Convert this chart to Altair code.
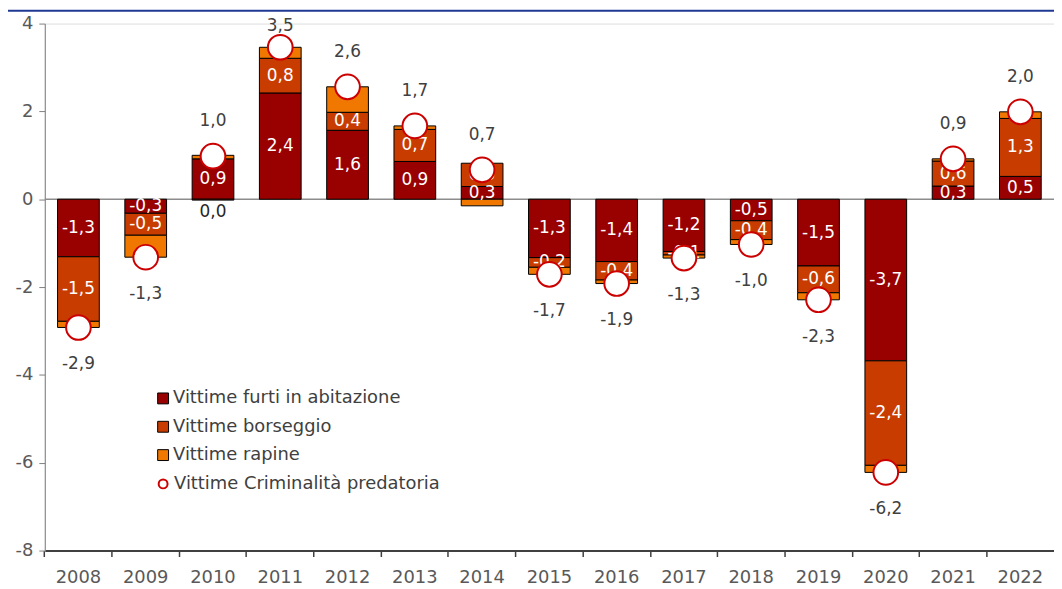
import altair as alt
import pandas as pd

years = [str(y) for y in range(2008, 2023)]
series = ["Vittime furti in abitazione", "Vittime borseggio", "Vittime rapine"]
total_name = "Vittime Criminalità predatoria"
furti = [-1.31, -0.32, 0.92, 2.42, 1.57, 0.86, 0.29, -1.33, -1.42, -1.19, -0.49, -1.52, -3.68, 0.30, 0.52]
borseggio = [-1.47, -0.50, -0.02, 0.79, 0.41, 0.73, 0.53, -0.22, -0.42, -0.08, -0.43, -0.61, -2.38, 0.57, 1.32]
rapine = [-0.14, -0.50, 0.08, 0.25, 0.58, 0.08, -0.15, -0.16, -0.08, -0.07, -0.11, -0.16, -0.16, 0.05, 0.15]
colors = ["#990000", "#C83C00", "#F07800"]
y_ticks = [-8, -6, -4, -2, 0, 2, 4]

FONT = "DejaVu Sans"


def fmt(v):
    s = f"{v:.1f}".replace(".", ",")
    return "0,0" if s == "-0,0" else s


seg_rows, lab_rows, tot_rows = [], [], []
for i, yr in enumerate(years):
    pos, neg = 0.0, 0.0
    for k, (s, vals) in enumerate(zip(series, [furti, borseggio, rapine])):
        v = vals[i]
        if v >= 0:
            y0, y1 = pos, pos + v
            pos += v
        else:
            y0, y1 = neg, neg + v
            neg += v
        seg_rows.append(dict(year=yr, series=s, y0=y0, y1=y1))
        if k < 2:
            if abs(v) < 0.05:
                ly, col = (neg - 0.26, "#262626") if v < 0 else (pos + 0.26, "#262626")
            else:
                ly, col = (y0 + y1) / 2, "white"
            lab_rows.append(dict(year=yr, ly=ly, txt=fmt(v), col=col))
    tot = furti[i] + borseggio[i] + rapine[i]
    ty = min(tot + 0.8, 3.95) if tot >= 0 else tot - 0.84
    tot_rows.append(dict(year=yr, tot=tot, ty=ty, txt=fmt(tot), name=total_name))

seg = pd.DataFrame(seg_rows)
labs = pd.DataFrame(lab_rows)
tots = pd.DataFrame(tot_rows)

W, H = 1015, 530

xenc = alt.X(
    "year:N",
    sort=years,
    scale=alt.Scale(paddingInner=0, paddingOuter=0),
    axis=alt.Axis(
        title=None, labelAngle=0, bandPosition=0, labelFontSize=18, labelColor="#595959",
        labelFont=FONT, domainColor="#404040", domainWidth=2, tickColor="#404040",
        tickWidth=1.5, tickSize=6, labelPadding=12,
    ),
)
yscale = alt.Scale(domain=[-8, 4], nice=False, zero=False)

bars = alt.Chart(seg).mark_bar(width={"band": 0.62}, stroke="black", strokeWidth=1).encode(
    x=xenc,
    y=alt.Y(
        "y0:Q",
        scale=yscale,
        axis=alt.Axis(
            title=None, values=y_ticks, grid=False, labelFontSize=18, labelColor="#595959",
            labelFont=FONT, domainColor="#808080", tickColor="#808080", tickSize=6,
            labelPadding=6, labelExpr="toString(datum.value)",
        ),
    ),
    y2="y1:Q",
    fill=alt.Fill(
        "series:N",
        scale=alt.Scale(domain=series, range=colors),
        legend=alt.Legend(
            title=None, orient="none", legendX=110, legendY=368, symbolType="square",
            symbolSize=120, symbolStrokeColor="black", symbolStrokeWidth=1,
            labelFontSize=18, labelFont=FONT, labelColor="#404040", labelOffset=1,
            rowPadding=10.5, padding=0, labelLimit=500,
        ),
    ),
)

zero = alt.Chart(pd.DataFrame({"v": [0]})).mark_rule(color="#8c8c8c", strokeWidth=1.5).encode(
    y=alt.Y("v:Q", scale=yscale)
)

seg_labels = alt.Chart(labs).mark_text(fontSize=17, font=FONT, baseline="middle").encode(
    x=alt.X("year:N", sort=years),
    y=alt.Y("ly:Q", scale=yscale),
    text="txt:N",
    color=alt.Color("col:N", scale=None),
)

circles = alt.Chart(tots).mark_circle(size=615, fill="white", opacity=1, strokeWidth=2).encode(
    x=alt.X("year:N", sort=years),
    y=alt.Y("tot:Q", scale=yscale),
    stroke=alt.Stroke(
        "name:N",
        scale=alt.Scale(domain=[total_name], range=["#CC0000"]),
        legend=alt.Legend(
            title=None, orient="none", legendX=110, legendY=454, symbolType="circle",
            symbolSize=80, symbolFillColor="white", symbolStrokeWidth=2,
            labelFontSize=18, labelFont=FONT, labelColor="#404040", labelOffset=2,
            padding=0, labelLimit=500,
        ),
    ),
)

tot_labels = alt.Chart(tots).mark_text(fontSize=17, font=FONT, baseline="middle", color="#404040").encode(
    x=alt.X("year:N", sort=years),
    y=alt.Y("ty:Q", scale=yscale),
    text="txt:N",
)

banner = alt.Chart(pd.DataFrame({"a": [0]})).mark_rect(color="#1F3A93").encode(
    x=alt.value(-37), x2=alt.value(W), y=alt.value(-14), y2=alt.value(-12)
)

chart = (
    alt.layer(banner, zero, bars, seg_labels, circles, tot_labels)
    .resolve_scale(fill="independent", stroke="independent")
    .properties(
        width=W, height=H,
        autosize=alt.AutoSizeParams(type="none"),
        padding={"left": 37, "top": 14, "right": 0, "bottom": 36},
    )
    .configure_view(stroke=None)
    .configure(font=FONT)
)

chart.save("out.html", embed_options={"renderer": "svg", "actions": False})
